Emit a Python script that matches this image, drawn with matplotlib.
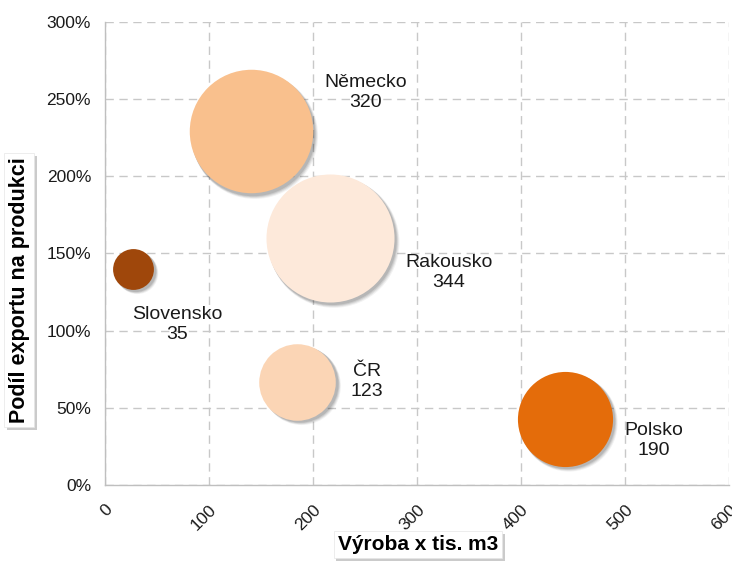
import numpy as np
import matplotlib
matplotlib.use("Agg")
import matplotlib.pyplot as plt
import matplotlib.patheffects as pe
from matplotlib.transforms import offset_copy

plt.rcParams['font.family'] = ['Liberation Sans', 'DejaVu Sans']

countries = ["Rakousko", "Německo", "Polsko", "ČR", "Slovensko"]
production = [216, 140, 442, 185, 27]        # Výroba x tis. m3
export_share = [1.60, 2.29, 0.43, 0.67, 1.40]  # Podíl exportu na produkci
bubble_value = [344, 320, 190, 123, 35]
colors = ["#FDE9DA", "#F9C08D", "#E46C0A", "#FBD5B5", "#9F470B"]
# label offsets in points relative to bubble centre
label_offsets = [(86, -25), (83, 28), (64, -16), (50, 0), (32, -40)]

fig = plt.figure(figsize=(7.32, 5.61), dpi=100)
ax = fig.add_axes([0.1434, 0.1355, 0.8526, 0.8255])

sizes = np.array(bubble_value) * 24.7

# soft shadows
for k, a in [(4, 0.05), (3, 0.07), (2, 0.09), (1, 0.1)]:
    tr = offset_copy(ax.transData, fig=fig, x=1.5 + k * 0.4, y=-1.5 - k * 0.4, units='points')
    ax.scatter(production, export_share, s=sizes * (1 + 0.012 * k), color='black',
               alpha=a, linewidths=0, transform=tr, zorder=2)

for i in range(len(countries)):
    ax.scatter(production[i], export_share[i], s=sizes[i], color=colors[i],
               linewidths=0, zorder=3 + i)
    ax.annotate("%s\n%d" % (countries[i], bubble_value[i]),
                xy=(production[i], export_share[i]), xytext=label_offsets[i],
                textcoords='offset points', ha='center', va='center',
                fontsize=14, color='#1a1a1a', linespacing=1.25, zorder=10)

ax.set_xlim(0, 600)
ax.set_ylim(0, 3.0)
ax.set_xticks(np.arange(0, 601, 100))
ax.set_yticks(np.arange(0, 3.01, 0.5))
ax.set_yticklabels(["%d%%" % round(v * 100) for v in np.arange(0, 3.01, 0.5)])
ax.tick_params(axis='both', length=0, labelsize=12.5, labelcolor='#1a1a1a')
ax.tick_params(axis='y', pad=10)
for lbl in ax.get_xticklabels():
    lbl.set_rotation(45)
    lbl.set_ha('right')
    lbl.set_va('top')
    lbl.set_rotation_mode('anchor')
ax.tick_params(axis='x', pad=12)

ax.grid(True, color='#c8c8c8', linestyle=(0, (6, 4)), linewidth=1.0, zorder=0)
ax.set_axisbelow(True)
for side in ['top', 'right']:
    ax.spines[side].set_visible(False)
for side in ['left', 'bottom']:
    ax.spines[side].set_color('#bfbfbf')
    ax.spines[side].set_linewidth(1.0)

box = dict(boxstyle='square,pad=0.2', fc='white', ec='#e6e6e6', lw=0.5)
xl = fig.text(0.571, 0.029, "Výroba x tis. m3", ha='center', va='center',
              fontsize=15, fontweight='bold', bbox=box)
yl = fig.text(0.026, 0.483, "Podíl exportu na produkci", ha='center', va='center',
              rotation=90, fontsize=15.5, fontweight='bold', bbox=box)
for t in (xl, yl):
    t.get_bbox_patch().set_path_effects([
        pe.SimplePatchShadow(offset=(2, -2), shadow_rgbFace='#999999', alpha=0.5),
        pe.Normal()])

fig.savefig("out.png", dpi=100)
